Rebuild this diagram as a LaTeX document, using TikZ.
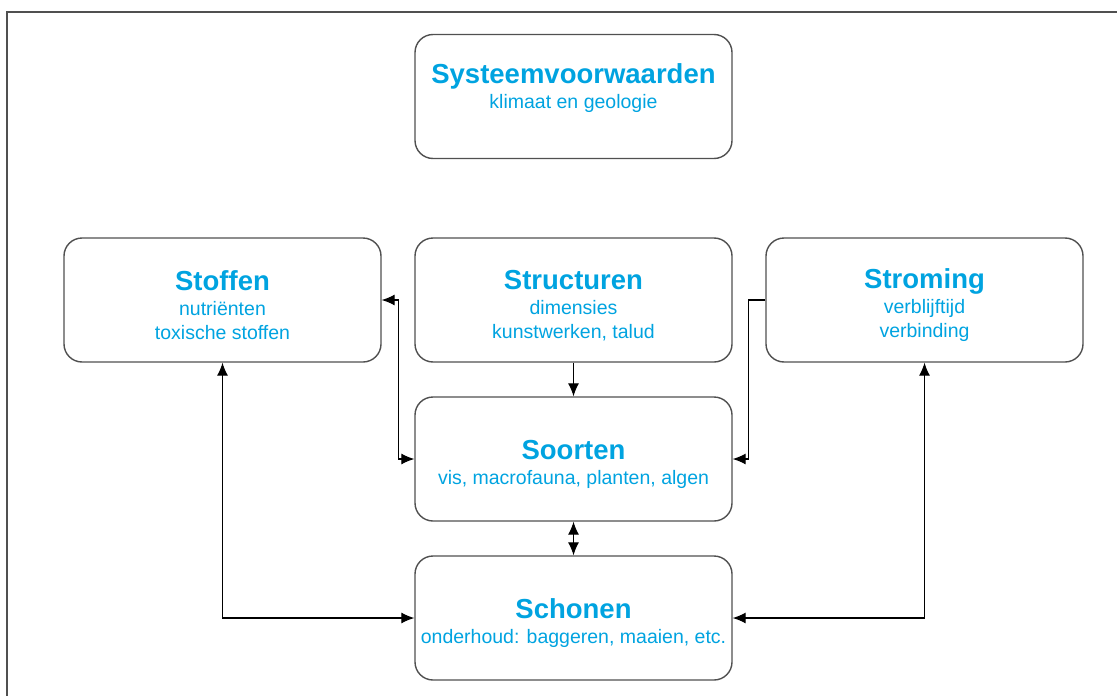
\documentclass[tikz,border=0pt]{standalone}
\usepackage{fontspec}
\setmainfont{Liberation Sans}
\usetikzlibrary{arrows.meta}
\definecolor{kopblauw}{RGB}{0,163,224}
\definecolor{randgrijs}{RGB}{80,80,80}
\newcommand{\kop}[2][31pt]{{\rule{0pt}{#1}\fontsize{27.5}{25}\selectfont\bfseries #2}\\[1pt]}

\begin{document}
\begin{tikzpicture}[x=1pt,y=-1pt,
  blok/.style={draw=randgrijs, line width=1.4pt, rounded corners=18pt,
    minimum width=317pt, minimum height=124pt, inner sep=0pt,
    align=center, text=kopblauw, font=\fontsize{19.5}{24}\selectfont},
  pijl/.style={line width=1.1pt, >={Latex[length=13pt,width=11pt]}}]

\useasboundingbox (0,0) rectangle (1117,696);
\draw [randgrijs, line width=2pt] (7,720) -- (7,12) -- (1140,12);

\node[blok] (systeem)  at (573.5,96.5) {\kop[0pt]{Systeemvoorwaarden}klimaat en geologie\\[-4pt]};
\node[blok] (stoffen)  at (222.5,300)  {\kop{Stoffen}nutri\"enten\\toxische stoffen};
\node[blok] (struct)   at (573.5,300)  {\kop{Structuren}dimensies\\kunstwerken, talud};
\node[blok] (stroming) at (924.5,300)  {\kop{Stroming}verblijftijd\\verbinding};
\node[blok] (soorten)  at (573.5,459)  {\kop{Soorten}vis, macrofauna, planten, algen};
\node[blok] (schonen)  at (573.5,618)  {\kop{Schonen}onderhoud: baggeren, maaien, etc.};

\draw [pijl,->] (struct) -- (soorten);
\draw [pijl,<->] (soorten) -- (schonen);
\draw [pijl,<->] (stoffen.east) -- ++(17,0) |- (soorten.west);
\draw [pijl,->] (stroming.west) -- ++(-17,0) |- (soorten.east);
\draw [pijl,<->] (stoffen.south) |- (schonen.west);
\draw [pijl,<->] (stroming.south) |- (schonen.east);

\end{tikzpicture}
\end{document}
